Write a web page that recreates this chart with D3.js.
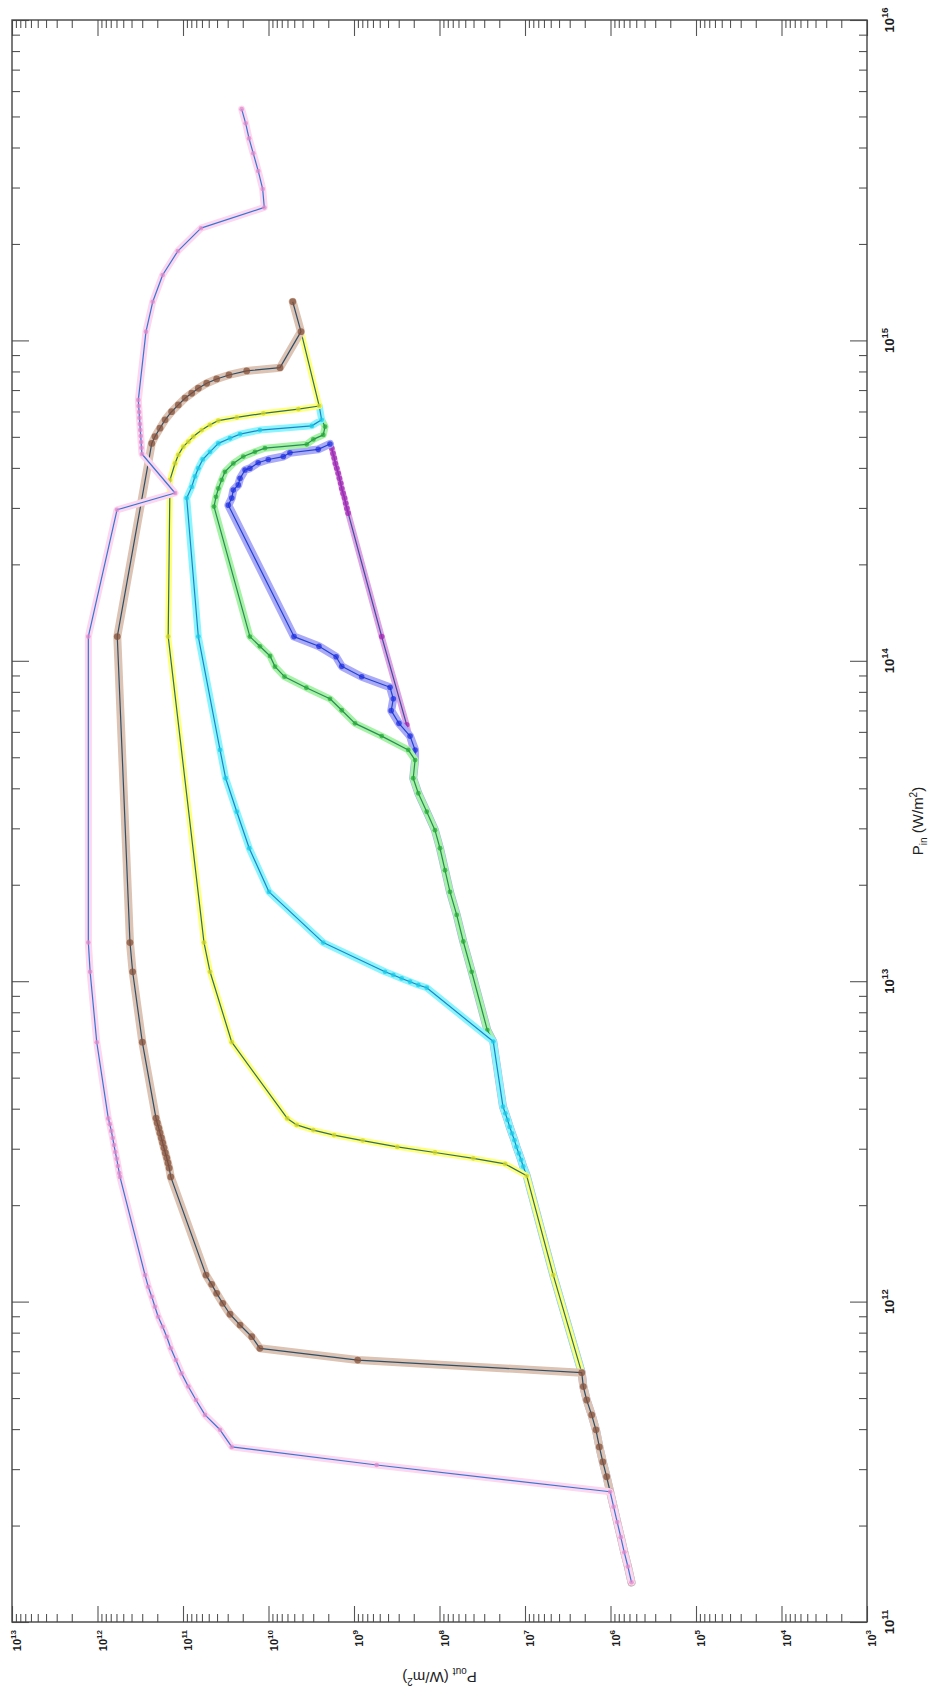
<!DOCTYPE html>
<html>
<head>
<meta charset="utf-8">
<script src="https://cdn.jsdelivr.net/npm/d3@7/dist/d3.min.js"></script>
<style>
body{margin:0;background:#fff;}
svg{display:block;font-family:'Liberation Sans',Arial,sans-serif;}
</style>
</head>
<body>
<div class="plot"></div>
<script>
// P_in (W/m^2) and P_out (W/m^2), high P_in first
var basePin = [4.90e13,4.30e13,3.86e13,3.38e13,2.96e13,2.60e13,2.22e13,1.90e13,1.61e13,1.33e13,1.07e13,7.04e12,6.48e12,
    4.06e12,3.87e12,3.69e12,3.51e12,3.35e12,3.19e12,3.04e12,2.90e12,2.77e12,2.64e12,2.47e12,1.21e12,6.00e11,
    5.43e11,4.93e11,4.43e11,3.98e11,3.52e11,3.16e11,2.84e11,2.55e11,2.29e11,2.05e11,1.84e11,1.65e11,1.49e11,1.33e11];
var basePout = [1.93e8,2.03e8,1.77e8,1.41e8,1.13e8,9.87e7,8.62e7,7.54e7,6.29e7,5.27e7,4.20e7,2.76e7,2.35e7,
    1.81e7,1.70e7,1.60e7,1.51e7,1.42e7,1.33e7,1.26e7,1.18e7,1.11e7,1.05e7,9.55e6,4.67e6,2.17e6,
    2.08e6,1.90e6,1.66e6,1.48e6,1.35e6,1.23e6,1.11e6,1.01e6,9.20e5,8.35e5,7.58e5,6.90e5,6.26e5,5.68e5];

var magentaPin = [4.61e14,4.44e14,4.29e14,4.13e14,3.99e14,3.85e14,3.71e14,3.58e14,3.45e14,3.33e14,3.22e14,3.10e14,2.99e14,2.89e14,1.19e14,6.31e13];
var magentaPout = [1.82e9,1.76e9,1.70e9,1.65e9,1.59e9,1.53e9,1.48e9,1.43e9,1.39e9,1.34e9,1.29e9,1.25e9,1.21e9,1.17e9,4.74e8,2.42e8];

var bluePin = [4.75e14,4.57e14,4.46e14,4.34e14,4.25e14,4.15e14,3.99e14,3.94e14,3.71e14,3.54e14,3.41e14,3.22e14,3.06e14,
    1.19e14,1.11e14,1.03e14,9.61e13,8.92e13,8.27e13,7.61e13,6.99e13,6.38e13,5.82e13,5.27e13];
var bluePout = [1.91e9,2.62e9,5.61e9,6.71e9,1.005e10,1.32e10,1.65e10,1.88e10,2.15e10,2.26e10,2.58e10,2.69e10,2.95e10,
    5.03e9,2.57e9,1.62e9,1.39e9,8.13e8,3.79e8,3.47e8,3.67e8,2.98e8,2.21e8,1.93e8];

var greenPin = [5.65e14,5.38e14,5.07e14,4.91e14,4.74e14,4.61e14,4.49e14,4.34e14,4.13e14,3.89e14,3.67e14,3.45e14,3.25e14,3.03e14,
    1.19e14,1.11e14,1.035e14,9.59e13,8.92e13,8.24e13,7.61e13,7.01e13,6.38e13,5.82e13,5.27e13];
var greenPout = [2.39e9,2.18e9,2.29e9,2.99e9,3.57e9,1.10e10,1.44e10,1.97e10,2.58e10,3.23e10,3.53e10,3.86e10,4.11e10,4.34e10,
    1.65e10,1.26e10,9.60e9,8.39e9,6.50e9,3.61e9,1.91e9,1.39e9,9.73e8,4.74e8,2.32e8];

var cyanPin = [6.24e14,5.65e14,5.41e14,5.25e14,5.10e14,4.95e14,4.77e14,4.49e14,4.25e14,3.99e14,3.76e14,3.49e14,3.22e14,
    1.19e14,5.27e13,4.30e13,3.38e13,2.60e13,1.90e13,1.32e13,1.07e13,1.046e13,1.02e13,9.96e12,9.73e12,9.54e12];
var cyanPout = [2.55e9,2.39e9,3.12e9,1.26e10,2.15e10,2.82e10,3.86e10,4.83e10,5.88e10,6.62e10,7.24e10,7.91e10,9.05e10,
    6.62e10,3.69e10,3.17e10,2.35e10,1.68e10,9.87e9,2.29e9,4.34e8,3.47e8,2.77e8,2.21e8,1.77e8,1.41e8];

var yellowPin = [1.065e15,6.24e14,6.10e14,5.92e14,5.75e14,5.62e14,5.45e14,5.25e14,5.01e14,4.83e14,4.66e14,4.39e14,4.13e14,3.67e14,
    1.19e14,1.32e13,1.07e13,6.45e12,3.73e12,3.56e12,3.43e12,3.31e12,3.18e12,3.04e12,2.92e12,2.80e12,2.69e12];
var yellowPout = [4.17e9,2.55e9,4.48e9,1.15e10,2.35e10,3.86e10,4.83e10,6.04e10,7.58e10,8.67e10,9.92e10,1.135e11,1.24e11,1.42e11,
    1.49e11,5.68e10,4.83e10,2.69e10,6.03e9,4.68e9,2.99e9,1.71e9,7.91e8,3.12e8,1.13e8,4.02e7,1.71e7];

var brownPin = [1.32e15,1.065e15,8.22e14,8.03e14,7.80e14,7.58e14,7.35e14,7.09e14,6.84e14,6.60e14,6.29e14,5.99e14,5.65e14,5.32e14,5.01e14,4.77e14,
    1.19e14,1.32e13,1.07e13,6.45e12,3.74e12,3.61e12,3.48e12,3.36e12,3.24e12,3.13e12,3.02e12,2.91e12,2.81e12,2.71e12,2.61e12,2.45e12,
    1.21e12,1.132e12,1.061e12,9.88e11,9.13e11,8.45e11,7.77e11,7.15e11,6.57e11];
var brownPout = [5.21e9,4.17e9,7.34e9,1.80e10,2.90e10,4.04e10,5.28e10,6.62e10,7.91e10,9.48e10,1.135e11,1.36e11,1.62e11,1.86e11,2.13e11,2.32e11,
    5.87e11,4.17e11,3.88e11,2.99e11,2.07e11,2.00e11,1.92e11,1.86e11,1.79e11,1.73e11,1.67e11,1.61e11,1.55e11,1.50e11,1.45e11,1.39e11,
    5.38e10,4.62e10,4.04e10,3.43e10,2.82e10,2.15e10,1.57e10,1.26e10,9.05e8];

var pinkPin = [5.27e15,4.76e15,4.27e15,3.84e15,3.38e15,2.97e15,2.60e15,2.24e15,1.90e15,1.60e15,1.32e15,1.065e15,
    6.52e14,6.24e14,5.98e14,5.73e14,5.48e14,5.25e14,5.03e14,4.82e14,4.62e14,4.42e14,3.34e14,2.96e14,
    1.19e14,1.32e13,1.07e13,6.45e12,3.73e12,3.58e12,3.41e12,3.24e12,3.08e12,2.93e12,2.79e12,2.65e12,2.52e12,2.45e12,
    1.21e12,1.113e12,1.036e12,9.64e11,8.97e11,8.35e11,7.77e11,7.15e11,6.57e11,5.97e11,5.43e11,4.93e11,4.43e11,3.98e11,3.52e11,3.09e11];
var pinkPout = [2.06e10,1.85e10,1.69e10,1.51e10,1.32e10,1.17e10,1.12e10,6.16e10,1.15e11,1.73e11,2.26e11,2.71e11,
    3.33e11,3.30e11,3.26e11,3.23e11,3.19e11,3.16e11,3.12e11,3.09e11,3.06e11,3.02e11,1.24e11,5.91e11,
    1.28e12,1.28e12,1.22e12,1.02e12,7.48e11,7.18e11,6.90e11,6.64e11,6.41e11,6.19e11,5.96e11,5.76e11,5.56e11,5.46e11,
    2.78e11,2.55e11,2.32e11,2.13e11,1.95e11,1.73e11,1.55e11,1.39e11,1.21e11,1.04e11,8.67e10,7.05e10,5.53e10,3.69e10,2.69e10,5.43e8];

// tick exponents
var outExp = [3,4,5,6,7,8,9,10,11,12,13];
var inExp = [11,12,13,14,15,16];

var W = 929, H = 1701;
var box = {l:12, r:867, t:20, b:1622};

var svg = d3.select('.plot').append('svg')
    .attr('width', W)
    .attr('height', H);

// the chart is turned a quarter: P_out runs right-to-left, P_in bottom-to-top
var x = d3.scaleLog().domain([1e13, 1e3]).range([box.l, box.r]);
var y = d3.scaleLog().domain([1e16, 1e11]).range([box.t, box.b]);

function minors(exps){
    var out = [];
    for (var i = 0; i < exps.length - 1; i++){
        for (var k = 2; k < 10; k++) out.push(k * Math.pow(10, exps[i]));
    }
    return out;
}
var outMajor = outExp.map(function(e){return Math.pow(10, e);}),
    inMajor = inExp.map(function(e){return Math.pow(10, e);});

function tickAxis(axis, vals, size, tx, ty){
    var g = svg.append('g')
        .attr('transform', 'translate(' + tx + ',' + ty + ')')
        .call(axis.tickValues(vals).tickSize(size).tickSizeOuter(0).tickFormat(''));
    g.select('.domain').remove();
    g.selectAll('line').attr('stroke', '#555').attr('stroke-width', 1.1);
}
tickAxis(d3.axisBottom(x), outMajor, -16, 0, box.b);
tickAxis(d3.axisBottom(x), minors(outExp), -8, 0, box.b);
tickAxis(d3.axisTop(x), outMajor, -16, 0, box.t);
tickAxis(d3.axisTop(x), minors(outExp), -8, 0, box.t);
tickAxis(d3.axisLeft(y), inMajor, -17, box.l, 0);
tickAxis(d3.axisLeft(y), minors(inExp), -8, box.l, 0);
tickAxis(d3.axisRight(y), inMajor, -17, box.r, 0);
tickAxis(d3.axisRight(y), minors(inExp), -8, box.r, 0);

svg.append('rect')
    .attr('x', box.l).attr('y', box.t)
    .attr('width', box.r - box.l).attr('height', box.b - box.t)
    .attr('fill', 'none').attr('stroke', '#444').attr('stroke-width', 1.4);

// tick labels, turned with the chart
var outLab = svg.selectAll('.outlab')
    .data(outExp).enter()
    .append('text')
    .attr('class', 'outlab')
    .attr('transform', function(e){return 'translate(' + (x(Math.pow(10, e)) + 9) + ',' + 1630 + ') rotate(-90)';})
    .attr('text-anchor', 'end')
    .attr('font-size', 11).attr('font-weight', 'bold').attr('fill', '#1b1b1b');
outLab.append('tspan').text('10');
outLab.append('tspan').attr('font-size', 8).attr('dy', -5).text(function(e){return e;});

var inLab = svg.selectAll('.inlab')
    .data(inExp).enter()
    .append('text')
    .attr('class', 'inlab')
    .attr('transform', function(e){return 'translate(' + 894 + ',' + y(Math.pow(10, e)) + ') rotate(-90)';})
    .attr('text-anchor', 'middle')
    .attr('font-size', 13).attr('font-weight', 'bold').attr('fill', '#1b1b1b');
inLab.append('tspan').text('10');
inLab.append('tspan').attr('font-size', 9.5).attr('dy', -6).text(function(e){return e;});

// axis titles
var tIn = svg.append('text')
    .attr('transform', 'translate(923,' + ((box.t + box.b) / 2) + ') rotate(-90)')
    .attr('text-anchor', 'middle').attr('font-size', 15).attr('fill', '#222');
tIn.append('tspan').text('P');
tIn.append('tspan').attr('font-size', 10).attr('dy', 4).text('in');
tIn.append('tspan').attr('dy', -4).text(' (W/m');
tIn.append('tspan').attr('font-size', 10).attr('dy', -6).text('2');
tIn.append('tspan').attr('dy', 6).text(')');

var tOut = svg.append('text')
    .attr('transform', 'translate(' + ((box.l + box.r) / 2) + ',1672) rotate(180)')
    .attr('text-anchor', 'middle').attr('font-size', 15).attr('fill', '#222');
tOut.append('tspan').text('P');
tOut.append('tspan').attr('font-size', 10).attr('dy', 4).text('out');
tOut.append('tspan').attr('dy', -4).text(' (W/m');
tOut.append('tspan').attr('font-size', 10).attr('dy', -6).text('2');
tOut.append('tspan').attr('dy', 6).text(')');

// curves: each leaves the shared low-power branch at its own threshold
var series = [
    {pin: magentaPin, pout: magentaPout, join: 0, halo: '#dea4e4', hw: 6, line: '#3b4f9c', dot: '#a526b5', r: 2.8},
    {pin: bluePin, pout: bluePout, join: 0, halo: '#aaaaf6', hw: 8, line: '#1f44d4', dot: '#1d2fe0', r: 2.8},
    {pin: greenPin, pout: greenPout, join: 0, halo: '#a6f2a6', hw: 7, line: '#2b8a55', dot: '#27a83a', r: 2.4},
    {pin: cyanPin, pout: cyanPout, join: 12, halo: '#8af4ff', hw: 7, line: '#1c86c4', dot: '#19c9e6', r: 2.4},
    {pin: yellowPin, pout: yellowPout, join: 23, halo: '#ffff78', hw: 6, line: '#2f6f68', dot: '#cfd62a', r: 2.4},
    {pin: brownPin, pout: brownPout, join: 25, halo: '#dcc3b3', hw: 8, line: '#2d4f68', dot: '#85523c', r: 3.4},
    {pin: pinkPin, pout: pinkPout, join: 33, halo: '#fdd6ef', hw: 7, line: '#3676d4', dot: '#e08acb', r: 2.3}
];

var line = d3.line()
    .x(function(d){return x(d[1]);})
    .y(function(d){return y(d[0]);});

series.forEach(function(s){
    var pts = s.pin.map(function(d, i){return [d, s.pout[i]];})
        .concat(basePin.slice(s.join).map(function(d, i){return [d, basePout[s.join + i]];}));
    var g = svg.append('g');
    g.append('path').datum(pts).attr('d', line)
        .attr('fill', 'none').attr('stroke', s.halo).attr('stroke-width', s.hw)
        .attr('stroke-linejoin', 'round').attr('stroke-linecap', 'round');
    g.append('path').datum(pts).attr('d', line)
        .attr('fill', 'none').attr('stroke', s.line).attr('stroke-width', 1.2)
        .attr('stroke-linejoin', 'round');
    g.selectAll('circle')
        .data(pts).enter()
        .append('circle')
        .attr('cx', function(d){return x(d[1]);})
        .attr('cy', function(d){return y(d[0]);})
        .attr('r', s.r)
        .attr('fill', s.dot)
        .attr('fill-opacity', 0.75);
});
</script>
</body>
</html>
